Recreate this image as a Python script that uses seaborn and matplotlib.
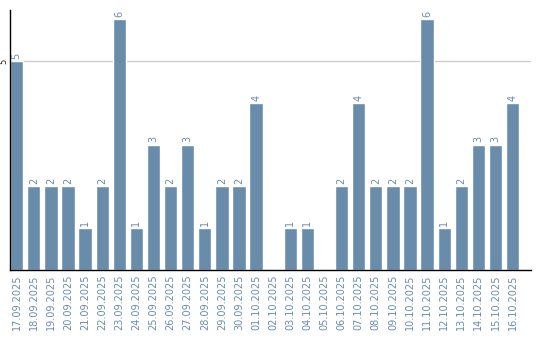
import matplotlib
matplotlib.use("Agg")
import matplotlib.pyplot as plt
import seaborn as sns
import pandas as pd

dates = ["17.09.2025","18.09.2025","19.09.2025","20.09.2025","21.09.2025","22.09.2025",
         "23.09.2025","24.09.2025","25.09.2025","26.09.2025","27.09.2025","28.09.2025",
         "29.09.2025","30.09.2025","01.10.2025","02.10.2025","03.10.2025","04.10.2025",
         "05.10.2025","06.10.2025","07.10.2025","08.10.2025","09.10.2025","10.10.2025",
         "11.10.2025","12.10.2025","13.10.2025","14.10.2025","15.10.2025","16.10.2025"]
values = [5,2,2,2,1,2,6,1,3,2,3,1,2,2,4,0,1,1,0,2,4,2,2,2,6,1,2,3,3,4]

sns.set_style("white")
plt.rcParams['font.family'] = ['DejaVu Sans']

color = "#6a8cab"
df = pd.DataFrame({"date": dates, "value": values})
fig = plt.figure(figsize=(5.4, 3.4), dpi=100)
ax = fig.add_axes([0.0185, 0.206, 0.965, 0.765])
sns.barplot(data=df, x="date", y="value", color=color, saturation=1, width=0.78, ax=ax)

ax.set_xlim(-0.39, 30.08)
ax.set_ylim(0, 6.22)
ax.set_yticks([5])
ax.set_yticklabels(["5"], rotation=90, va="center", fontsize=6)
ax.yaxis.grid(True, color="#cccccc", linewidth=1)
ax.set_axisbelow(True)
ax.tick_params(axis="y", length=0, pad=1)
ax.tick_params(axis="x", length=0, pad=3)
ax.set_xticks(range(len(dates)))
ax.set_xticklabels(dates, rotation=90, fontsize=7, color=color)
ax.set_xlabel("")
ax.set_ylabel("")
for s in ["top", "right"]:
    ax.spines[s].set_visible(False)
for s in ["left", "bottom"]:
    ax.spines[s].set_color("black")
    ax.spines[s].set_linewidth(1)

for i, v in enumerate(values):
    if v > 0:
        ax.text(i, v + 0.05, str(v), rotation=90, ha="center", va="bottom", fontsize=7, color=color)

fig.savefig("out.png", dpi=100)
